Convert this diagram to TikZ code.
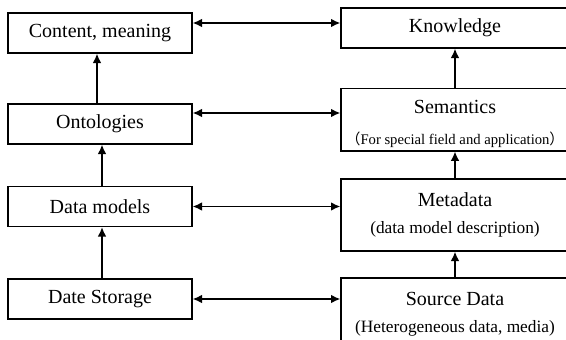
\documentclass[tikz,border=0pt]{standalone}
\usepackage{fontspec}
\setmainfont{Liberation Serif}
\newfontfamily\cjk{Noto Sans CJK SC}
\usetikzlibrary{arrows.meta}
\newcommand{\sub}[1]{\fontsize{13}{15}\selectfont #1}

\begin{document}
\begin{tikzpicture}[x=.75pt,y=-.75pt,line width=1pt,font=\fontsize{15}{20}\selectfont,
  lbox/.style={draw,minimum width=138pt,minimum height=30pt,inner sep=0pt},
  rbox/.style={draw,minimum width=171pt,inner sep=0pt,align=center},
  up/.style={line width=1.2pt,-{Latex[length=7pt,width=6.5pt]}},
  both/.style={line width=1.2pt,{Latex[length=7pt,width=6.5pt]}-{Latex[length=7pt,width=6.5pt]}}]
\clip (0,0) rectangle (566,339);
\node[lbox] (content) at (100,33) {Content, meaning};
\node[lbox] (onto) at (100,124) {Ontologies};
\node[lbox] (models) at (100,206.5) {Data models};
\node[lbox] (storage) at (100,299) {Date Storage};
\node[rbox,minimum height=30pt] (know) at (455,28) {Knowledge};
\node[rbox,minimum height=47pt] (sem) at (455,119.5) {\rule{0pt}{17pt}Semantics\\[3pt]{\fontsize{11}{13}\selectfont{\cjk （}For special field and application{\cjk ）}}};
\node[rbox,minimum height=54pt] (meta) at (455,215) {Metadata\\\sub{(data model description)}};
\node[rbox,minimum height=54pt] (src) at (455,314) {Source Data\\\sub{(Heterogeneous data, media)}};
% left column
\draw[up] ([xshift=-2.25pt]onto.north) -- ([xshift=-2.25pt]content.south);
\draw[up] ([xshift=1.5pt]models.north) -- ([xshift=1.5pt]onto.south);
\draw[up] ([xshift=1.5pt]storage.north) -- ([xshift=1.5pt]models.south);
% right column
\draw[up] (sem) -- (know);
\draw[up] (meta) -- (sem);
\draw[up] (src) -- (meta);
% across
\draw[both] ([yshift=7.5pt]content.east) -- ([yshift=7.5pt]content.east -| know.west);
\draw[both] ([yshift=8.25pt]onto.east) -- ([yshift=8.25pt]onto.east -| sem.west);
\draw[both] (models.east) -- (models.east -| meta.west);
\draw[both] (storage.east) -- (storage.east -| src.west);
\end{tikzpicture}
\end{document}
